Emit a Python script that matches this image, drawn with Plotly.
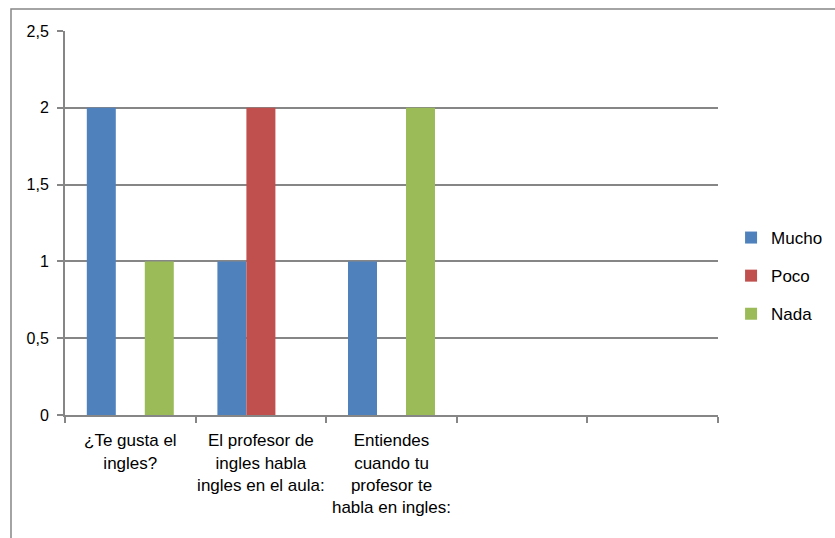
import plotly.graph_objects as go

categories = ["¿Te gusta el<br>ingles?", "El profesor de<br>ingles habla<br>ingles en el aula:",
              "Entiendes<br>cuando tu<br>profesor te<br>habla en ingles:", " ", "  "]
mucho = [2, 1, 1, None, None]
poco = [0, 2, 0, None, None]
nada = [1, 0, 2, None, None]
series = [("Mucho", mucho, "#4F81BD"), ("Poco", poco, "#C0504D"), ("Nada", nada, "#9BBB59")]

FONT = "Liberation Sans"
GRID = "#868686"

fig = go.Figure()
for name, vals, color in series:
    fig.add_trace(go.Bar(name=name, x=categories, y=vals, marker=dict(color=color, line=dict(width=0)),
                         legendgroup=name))

fig.update_layout(
    width=835, height=538,
    margin=dict(l=65, r=117, t=31, b=123, autoexpand=False),
    paper_bgcolor="white", plot_bgcolor="white",
    separators=",.",
    barmode="group", bargap=0.334, bargroupgap=0,
    font=dict(family=FONT, size=16, color="#000000"),
    showlegend=True,
    legend=dict(x=1.02, y=0.362, xanchor="left", yanchor="middle", tracegroupgap=13,
                font=dict(family=FONT, size=17), itemwidth=30, bgcolor="rgba(0,0,0,0)"),
    xaxis=dict(type="category", categoryorder="array", categoryarray=categories,
               tickson="boundaries", ticks="outside", ticklen=6, tickcolor=GRID, tickwidth=1.5,
               showline=True, linecolor=GRID, linewidth=2, showgrid=False, automargin=False,
               tickangle=0,
               tickfont=dict(family=FONT, size=17), range=[-0.5, 4.5], ticklabelstandoff=9),
    yaxis=dict(range=[0, 2.5], dtick=0.5, tick0=0, ticks="outside", ticklen=6, tickcolor=GRID,
               tickwidth=1.5, showline=True, linecolor=GRID, linewidth=2, showgrid=True,
               gridcolor=GRID, gridwidth=2, zeroline=False, tickfont=dict(family=FONT, size=16),
               ticklabelstandoff=5, automargin=False),
    shapes=[dict(type="rect", xref="paper", yref="paper", x0=-0.0827, x1=1.5, y0=-0.5, y1=1.057,
                 line=dict(color=GRID, width=1.5), fillcolor="rgba(0,0,0,0)", layer="below")],
)

fig.write_html("out.html", config={"displayModeBar": False},
               post_script="document.body.style.margin='0';document.body.style.overflow='hidden';")
